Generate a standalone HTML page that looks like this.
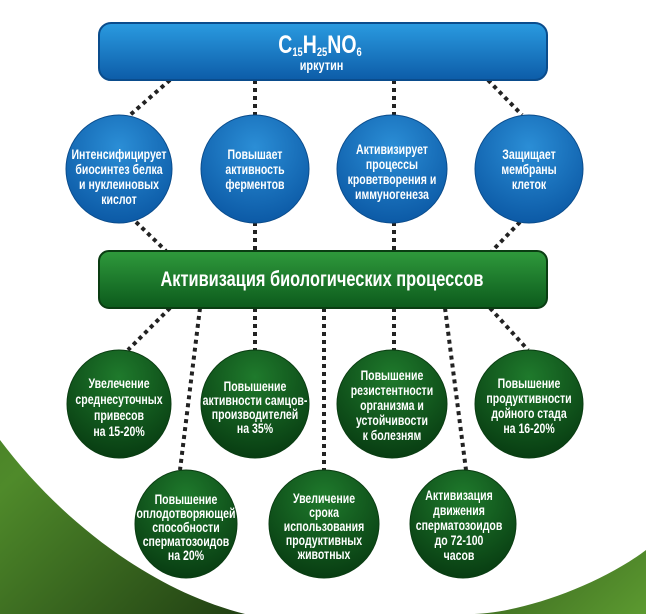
<!DOCTYPE html>
<html><head><meta charset="utf-8"><style>
html,body{margin:0;padding:0;background:#fff}
svg{display:block}
text{font-family:"Liberation Sans",sans-serif;font-weight:bold;fill:#fff;text-anchor:middle}
</style></head><body>
<svg width="646" height="614" viewBox="0 0 646 614" xmlns="http://www.w3.org/2000/svg">
<defs>
<linearGradient id="grass" x1="0" y1="0" x2="1" y2="1">
<stop offset="0" stop-color="#2f5a1c"/><stop offset="0.4" stop-color="#4f8a2a"/><stop offset="0.7" stop-color="#1f3d12"/><stop offset="1" stop-color="#5c9a30"/></linearGradient>
<linearGradient id="blueBox" x1="0" y1="0" x2="0" y2="1">
<stop offset="0" stop-color="#2a9be0"/><stop offset="1" stop-color="#0d5ca8"/></linearGradient>
<radialGradient id="blueC" cx="0.5" cy="0.3" r="0.7">
<stop offset="0" stop-color="#2b8ed6"/><stop offset="1" stop-color="#0c5aa6"/></radialGradient>
<linearGradient id="greenBox" x1="0" y1="0" x2="0" y2="1">
<stop offset="0" stop-color="#2f9a3c"/><stop offset="1" stop-color="#0c5a1c"/></linearGradient>
<radialGradient id="greenC" cx="0.5" cy="0.25" r="0.75">
<stop offset="0" stop-color="#1f7a2c"/><stop offset="1" stop-color="#083d12"/></radialGradient>
</defs>
<rect width="646" height="614" fill="url(#grass)"/>
<path d="M0,0 H646 V550 C600,585 520,614 470,614 H245 C150,590 60,520 0,440 Z" fill="#fff"/>
<g stroke="#222" stroke-width="4" stroke-dasharray="4 4" fill="none">
<line x1="170" y1="80" x2="130" y2="115"/>
<line x1="255" y1="80" x2="255" y2="115"/>
<line x1="394" y1="80" x2="394" y2="115"/>
<line x1="488" y1="80" x2="522" y2="115"/>
<line x1="136" y1="222" x2="166" y2="251"/>
<line x1="255" y1="222" x2="255" y2="251"/>
<line x1="394" y1="222" x2="394" y2="251"/>
<line x1="520" y1="222" x2="492" y2="251"/>
<line x1="170" y1="308" x2="128" y2="350"/>
<line x1="200" y1="308" x2="180" y2="470"/>
<line x1="255" y1="308" x2="255" y2="350"/>
<line x1="324" y1="308" x2="324" y2="470"/>
<line x1="394" y1="308" x2="394" y2="350"/>
<line x1="445" y1="308" x2="466" y2="470"/>
<line x1="490" y1="308" x2="528" y2="350"/>
</g>
<rect x="99" y="23" width="448" height="57" rx="12" fill="url(#blueBox)" stroke="#0a4c8c" stroke-width="2"/>
<g transform="matrix(0.78,0,0,1,70.4,0)">
<text x="320" y="53" font-size="25">C<tspan font-size="12" dy="3">15</tspan><tspan dy="-3">H</tspan><tspan font-size="12" dy="3">25</tspan><tspan dy="-3">NO</tspan><tspan font-size="12" dy="3">6</tspan></text>
<text x="322" y="70" font-size="14">иркутин</text>
</g>
<g fill="url(#blueC)" stroke="#0a4c8c" stroke-width="1">
<ellipse cx="119" cy="169" rx="53" ry="54"/>
<ellipse cx="255" cy="169" rx="54" ry="54"/>
<ellipse cx="392" cy="169" rx="55" ry="54"/>
<ellipse cx="529" cy="169" rx="54" ry="54"/>
</g>
<g font-size="13.5">
<g transform="matrix(0.78,0,0,1,26.2,0)"><text x="119" y="159">Интенсифицирует</text><text x="119" y="174">биосинтез белка</text><text x="119" y="189">и нуклеиновых</text><text x="119" y="204">кислот</text></g>
<g transform="matrix(0.78,0,0,1,56.1,0)"><text x="255" y="159">Повышает</text><text x="255" y="174">активность</text><text x="255" y="189">ферментов</text></g>
<g transform="matrix(0.78,0,0,1,86.2,0)"><text x="392" y="154">Активизирует</text><text x="392" y="169">процессы</text><text x="392" y="184">кроветворения и</text><text x="392" y="199">иммуногенеза</text></g>
<g transform="matrix(0.78,0,0,1,116.4,0)"><text x="529" y="159">Защищает</text><text x="529" y="174">мембраны</text><text x="529" y="189">клеток</text></g>
</g>
<rect x="99" y="251" width="448" height="57" rx="10" fill="url(#greenBox)" stroke="#0a3d12" stroke-width="2"/>
<g transform="matrix(0.78,0,0,1,70.8,0)"><text x="322" y="286" font-size="21">Активизация биологических процессов</text></g>
<g fill="url(#greenC)" stroke="#0a3d12" stroke-width="1">
<ellipse cx="119" cy="404" rx="52" ry="54"/>
<ellipse cx="255" cy="404" rx="54" ry="54"/>
<ellipse cx="392" cy="404" rx="55" ry="54"/>
<ellipse cx="529" cy="404" rx="54" ry="54"/>
<ellipse cx="186" cy="524" rx="51" ry="54"/>
<ellipse cx="324" cy="524" rx="55" ry="54"/>
<ellipse cx="463" cy="524" rx="53" ry="54"/>
</g>
<g font-size="13.5">
<g transform="matrix(0.78,0,0,1,26.2,0)"><text x="119" y="388">Увелечение</text><text x="119" y="404">среднесуточных</text><text x="119" y="420">привесов</text><text x="119" y="436">на 15-20%</text></g>
<g transform="matrix(0.78,0,0,1,56.1,0)"><text x="255" y="391">Повышение</text><text x="255" y="405">активности самцов-</text><text x="255" y="419">производителей</text><text x="255" y="433">на 35%</text></g>
<g transform="matrix(0.78,0,0,1,86.2,0)"><text x="392" y="380">Повышение</text><text x="392" y="395">резистентности</text><text x="392" y="410">организма и</text><text x="392" y="425">устойчивости</text><text x="392" y="440">к болезням</text></g>
<g transform="matrix(0.78,0,0,1,116.4,0)"><text x="529" y="388">Повышение</text><text x="529" y="403">продуктивности</text><text x="529" y="418">дойного стада</text><text x="529" y="433">на 16-20%</text></g>
<g transform="matrix(0.78,0,0,1,40.9,0)"><text x="186" y="504">Повышение</text><text x="186" y="518">оплодотворяющей</text><text x="186" y="532">способности</text><text x="186" y="546">сперматозоидов</text><text x="186" y="560">на 20%</text></g>
<g transform="matrix(0.78,0,0,1,71.3,0)"><text x="324" y="503">Увеличение</text><text x="324" y="517">срока</text><text x="324" y="531">использования</text><text x="324" y="545">продуктивных</text><text x="324" y="559">животных</text></g>
<g transform="matrix(0.78,0,0,1,101,0)"><text x="459" y="500">Активизация</text><text x="459" y="515">движения</text><text x="459" y="530">сперматозоидов</text><text x="459" y="545">до 72-100</text><text x="459" y="560">часов</text></g>
</g>
</svg>
</body></html>
